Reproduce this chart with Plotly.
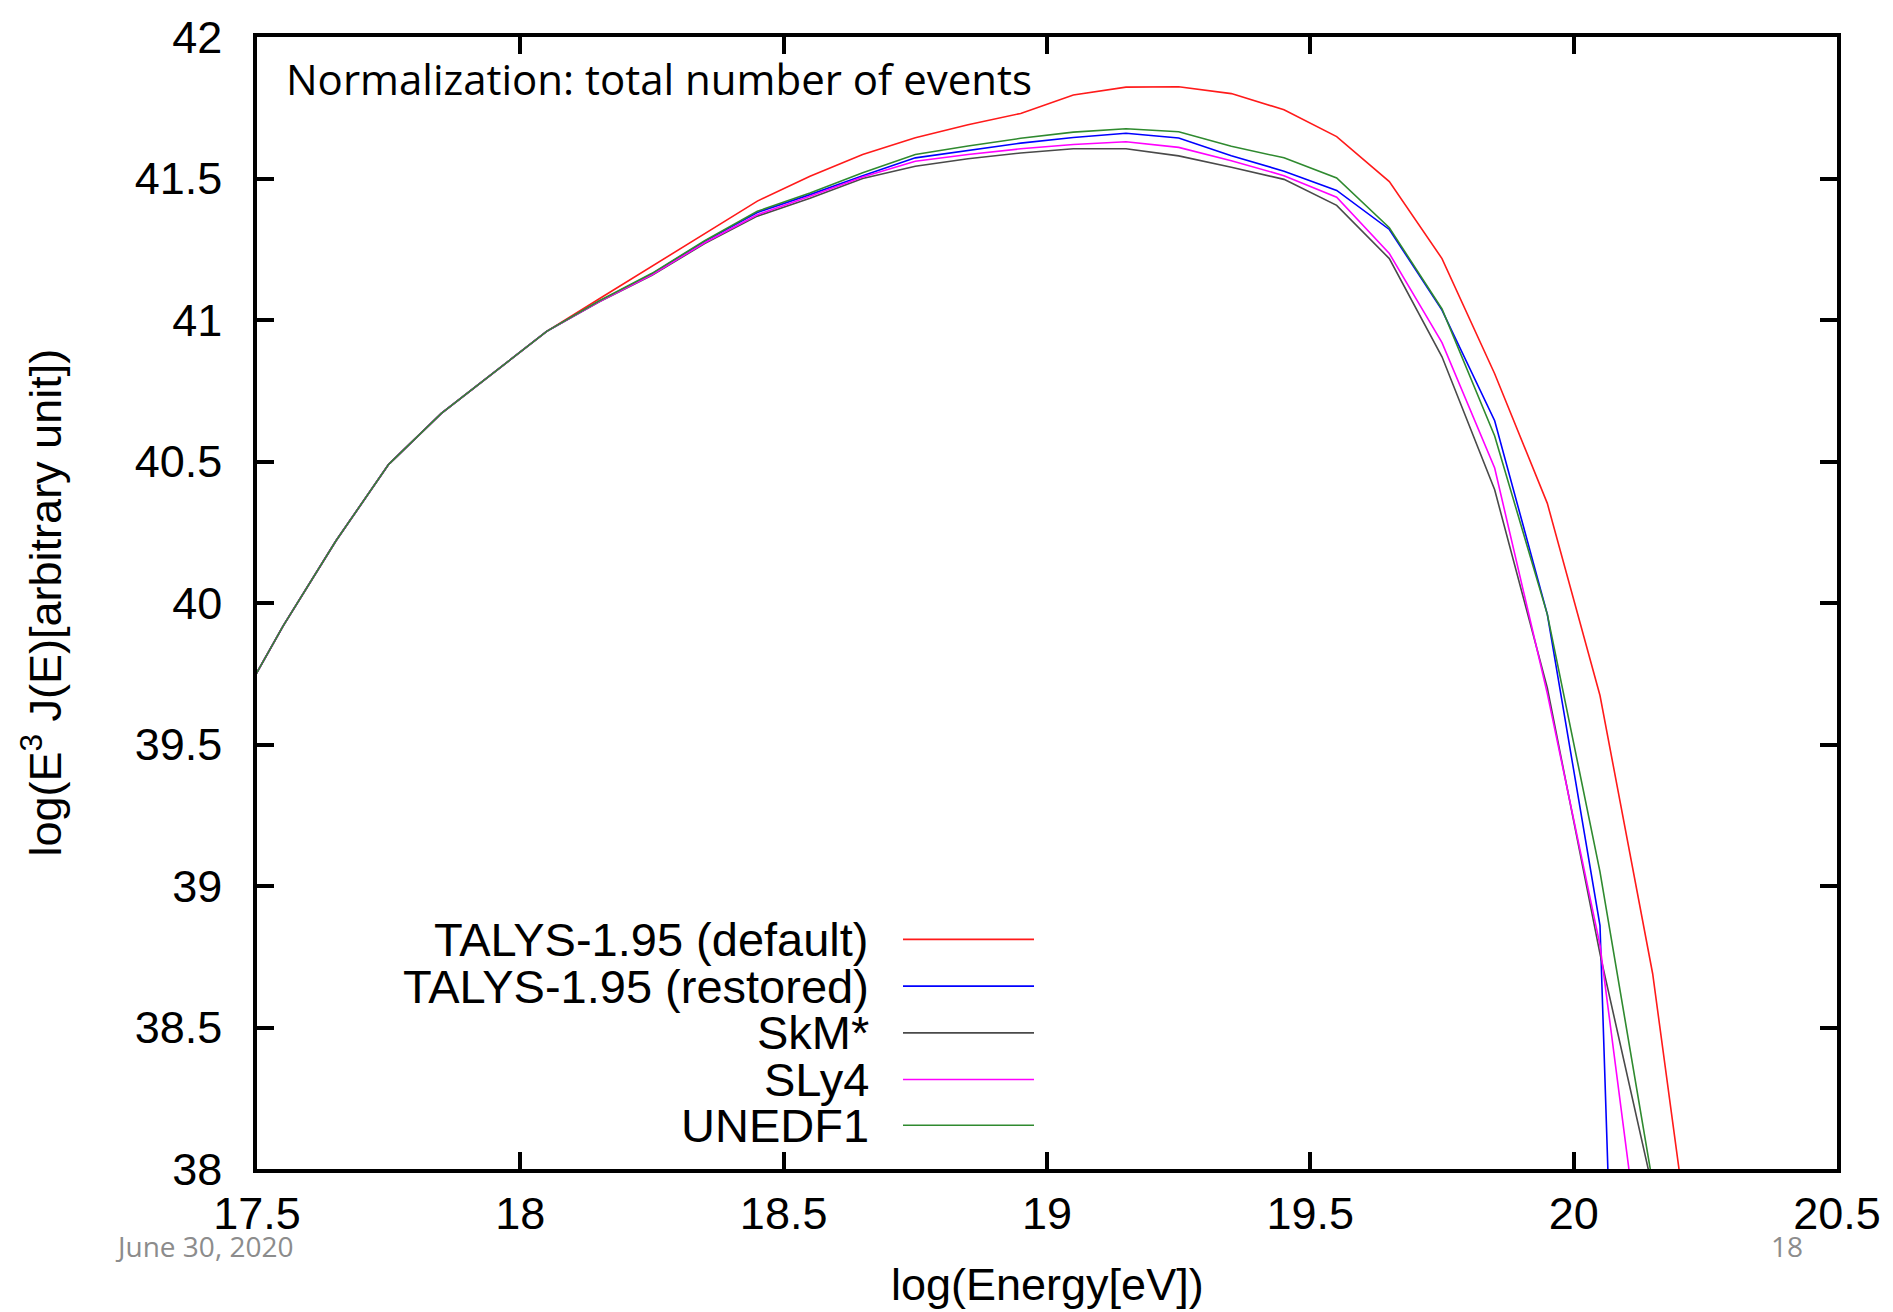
import plotly.graph_objects as go

# ---------------- data ----------------
log_energy = [17.45, 17.55, 17.65, 17.75, 17.85, 17.95, 18.05, 18.15, 18.25, 18.35,
              18.45, 18.55, 18.65, 18.75, 18.85, 18.95, 19.05, 19.15, 19.25, 19.35,
              19.45, 19.55, 19.65, 19.75, 19.85, 19.95, 20.05, 20.15, 20.25]

talys_default = [39.59, 39.92, 40.22, 40.49, 40.67, 40.815, 40.96, 41.075, 41.19, 41.305,
                 41.42, 41.508, 41.585, 41.644, 41.69, 41.73, 41.795, 41.823, 41.824, 41.80,
                 41.743, 41.648, 41.489, 41.217, 40.81, 40.352, 39.673, 38.69, 37.31]

talys_restored = [39.59, 39.92, 40.22, 40.49, 40.67, 40.815, 40.96, 41.066, 41.163, 41.278,
                  41.38, 41.443, 41.51, 41.573, 41.60, 41.625, 41.645, 41.66, 41.643, 41.58,
                  41.526, 41.458, 41.32, 41.035, 40.644, 39.96, 38.86, 33.1, 30.0]

skm_star = [39.59, 39.92, 40.22, 40.49, 40.67, 40.815, 40.96, 41.064, 41.158, 41.27,
            41.367, 41.43, 41.50, 41.543, 41.57, 41.59, 41.605, 41.605, 41.58, 41.54,
            41.497, 41.405, 41.217, 40.87, 40.40, 39.70, 38.76, 37.93, 37.1]

sly4 = [39.59, 39.92, 40.22, 40.49, 40.67, 40.815, 40.96, 41.065, 41.16, 41.273,
        41.372, 41.437, 41.505, 41.561, 41.585, 41.605, 41.62, 41.63, 41.61, 41.563,
        41.51, 41.434, 41.235, 40.92, 40.477, 39.68, 38.79, 37.35, 35.9]

unedf1 = [39.59, 39.92, 40.22, 40.49, 40.67, 40.815, 40.96, 41.068, 41.165, 41.28,
          41.384, 41.449, 41.52, 41.585, 41.615, 41.642, 41.664, 41.676, 41.665, 41.614,
          41.573, 41.502, 41.326, 41.039, 40.59, 39.96, 39.05, 37.95, 36.8]

series_names = ["TALYS-1.95 (default)", "TALYS-1.95 (restored)", "SkM*", "SLy4", "UNEDF1"]
series_values = [talys_default, talys_restored, skm_star, sly4, unedf1]
series_colors = ["#ff1a1a", "#0000ff", "#4a4a4a", "#ff00ff", "#2f8a2f"]

x_tickvals = [17.5, 18.0, 18.5, 19.0, 19.5, 20.0, 20.5]
x_ticktext = ["17.5", "18", "18.5", "19", "19.5", "20", "20.5"]
y_tickvals = [38.0, 38.5, 39.0, 39.5, 40.0, 40.5, 41.0, 41.5, 42.0]
y_ticktext = ["38", "38.5", "39", "39.5", "40", "40.5", "41", "41.5", "42"]

# ---------------- figure ----------------
W, H = 1893, 1312
L, R, T, B = 257, 56, 30, 143
pw, ph = W - L - R, H - T - B

def px(x):
    return (x - L) / pw

def py(y):
    return (H - B - y) / ph

FONT = "Liberation Sans, Arial, sans-serif"

fig = go.Figure()
for name, vals, col in zip(series_names, series_values, series_colors):
    fig.add_trace(go.Scatter(x=log_energy, y=vals, mode="lines", name=name,
                             line=dict(color=col, width=1.6), showlegend=False))

axis_common = dict(showline=True, linecolor="black", linewidth=3.5, mirror="allticks",
                   ticks="inside", ticklen=17, tickwidth=3.5, tickcolor="black",
                   showgrid=False, zeroline=False, ticklabeloverflow="allow",
                   tickfont=dict(family=FONT, size=45, color="black"))

fig.update_xaxes(range=[17.5, 20.5], tickvals=x_tickvals, ticktext=x_ticktext,
                 ticklabelstandoff=2, **axis_common)
fig.update_yaxes(range=[38, 42], tickvals=y_tickvals, ticktext=y_ticktext,
                 ticklabelstandoff=22, **axis_common)

annotations = []
# axis titles
annotations.append(dict(text="log(Energy[eV])", x=px(1047), y=py(1285), xref="paper", yref="paper",
                        xanchor="center", yanchor="middle", showarrow=False,
                        font=dict(family=FONT, size=45, color="black")))
annotations.append(dict(text="log(E<sup>3</sup> J(E)[arbitrary unit])", x=px(42), y=py(599),
                        xref="paper", yref="paper", xanchor="center", yanchor="middle",
                        textangle=-90, showarrow=False,
                        font=dict(family=FONT, size=45, color="black")))
# in-plot note
annotations.append(dict(text="Normalization: total number of events", x=px(284), y=py(72),
                        xref="paper", yref="paper", xanchor="left", yanchor="middle",
                        showarrow=False, font=dict(family="Open Sans, sans-serif", size=42, color="black")))
# footer
annotations.append(dict(text="June 30, 2020", x=px(113), y=py(1246), xref="paper", yref="paper",
                        xanchor="left", yanchor="middle", showarrow=False,
                        font=dict(family="Open Sans, sans-serif", size=28, color="#8c8c8c")))
annotations.append(dict(text="18", x=px(1787), y=py(1246), xref="paper", yref="paper",
                        xanchor="center", yanchor="middle", showarrow=False,
                        font=dict(family="Open Sans, sans-serif", size=28, color="#8c8c8c")))

# manual legend (text right-aligned, sample line on the right)
legend_rows = [938, 985, 1032, 1079, 1125]
shapes = []
for name, col, ry in zip(series_names, series_colors, legend_rows):
    annotations.append(dict(text=name, x=px(871), y=py(ry), xref="paper", yref="paper",
                            xanchor="right", yanchor="middle", showarrow=False,
                            font=dict(family=FONT, size=47, color="black")))
    shapes.append(dict(type="line", xref="paper", yref="paper", x0=px(903), x1=px(1034),
                       y0=py(ry), y1=py(ry), line=dict(color=col, width=1.6)))

fig.update_layout(width=W, height=H, autosize=False,
                  margin=dict(l=L, r=R, t=T, b=B, pad=0),
                  paper_bgcolor="white", plot_bgcolor="white",
                  annotations=annotations, shapes=shapes, showlegend=False)

fig.write_html("out.html")
